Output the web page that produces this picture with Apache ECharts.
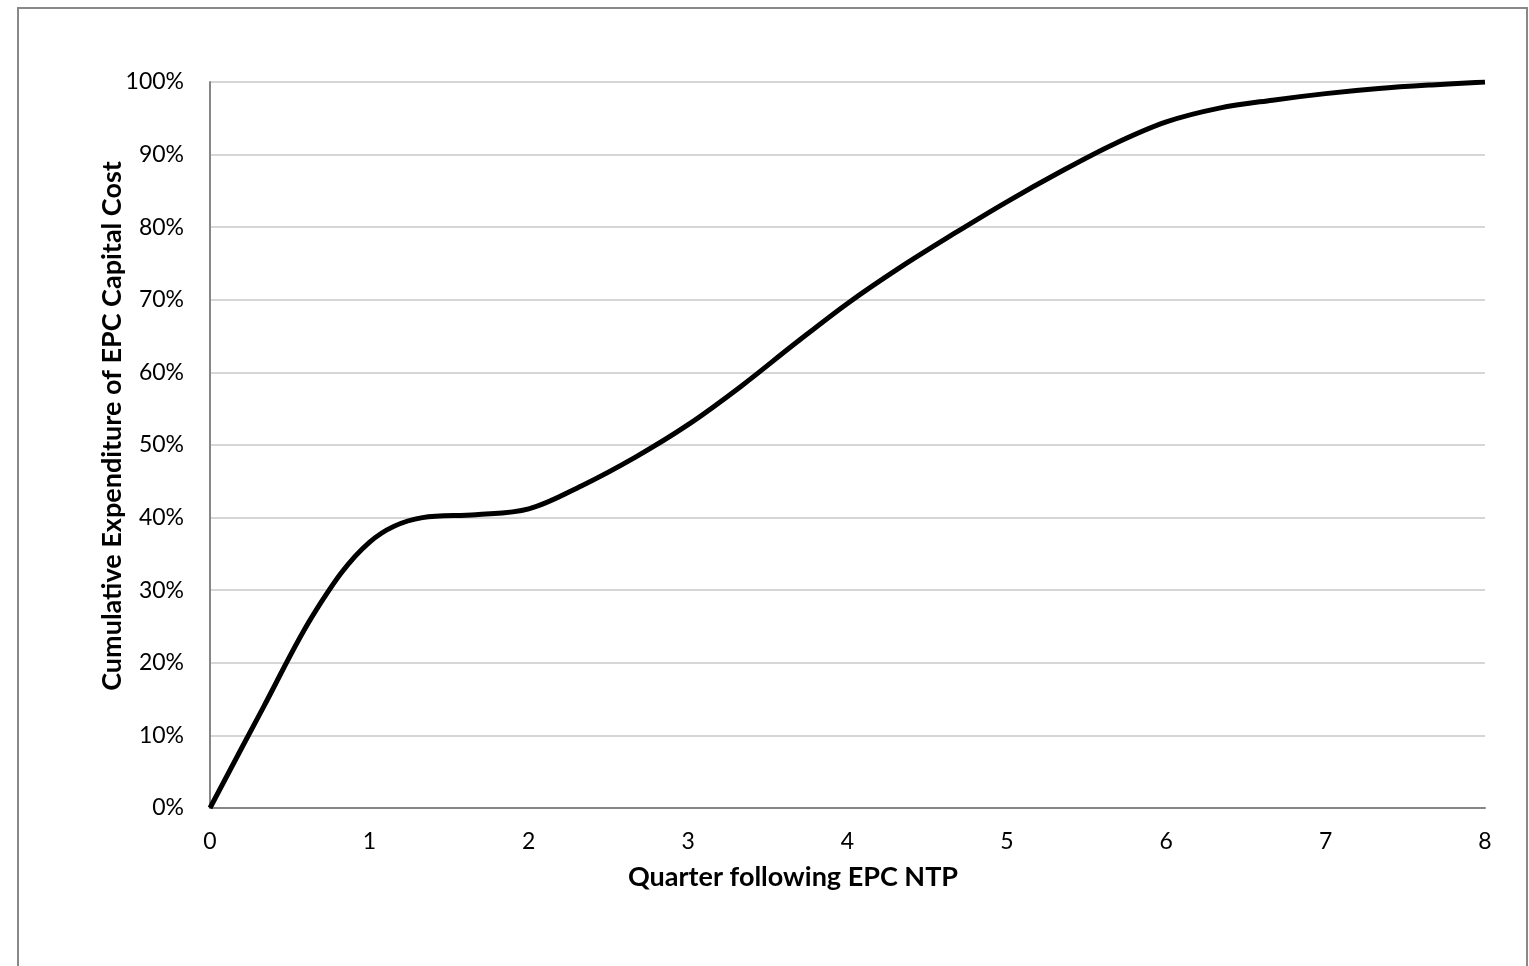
<!DOCTYPE html>
<html>
<head>
<meta charset="utf-8">
<script src="https://cdn.jsdelivr.net/npm/echarts@6/dist/echarts.min.js"></script>
<style>
html,body{margin:0;padding:0;background:#fff;}
#chart{width:1529px;height:966px;}
</style>
</head>
<body>
<div id="chart"></div>
<script>
// Quarter following EPC NTP (monthly steps) and cumulative expenditure (%)
var quarters = [0, 0.333, 0.667, 1, 1.333, 1.667, 2, 2.333, 2.667, 3, 3.333, 3.667, 4, 4.333, 4.667, 5, 5.333, 5.667, 6, 6.333, 6.667, 7, 7.333, 7.667, 8];
var cumulative = [0, 13.8, 27.3, 36.6, 40.0, 40.4, 41.2, 44.4, 48.3, 52.8, 58.1, 63.9, 69.5, 74.5, 79.1, 83.5, 87.6, 91.4, 94.5, 96.4, 97.5, 98.4, 99.1, 99.6, 100];
var xTitle = 'Quarter following EPC NTP';
var yTitle = 'Cumulative Expenditure of EPC Capital Cost';

var seriesData = quarters.map(function (q, i) { return [q, cumulative[i]]; });

var chart = echarts.init(document.getElementById('chart'));
var fontFam = 'Lato, "Open Sans", sans-serif';
chart.setOption({
  animation: false,
  backgroundColor: '#ffffff',
  grid: { left: 210, right: 44, top: 82, bottom: 158, containLabel: false },
  xAxis: {
    type: 'value', min: 0, max: 8, interval: 1,
    axisLine: { show: true, onZero: false, lineStyle: { color: '#868686', width: 2 } },
    axisTick: { show: false },
    splitLine: { show: false },
    axisLabel: { color: '#000', fontFamily: fontFam, fontSize: 23, margin: 22 }
  },
  yAxis: {
    type: 'value', min: 0, max: 100, interval: 10,
    axisLine: { show: true, lineStyle: { color: '#868686', width: 2 } },
    axisTick: { show: false },
    splitLine: { show: true, lineStyle: { color: '#c8c8c8', width: 1.5 } },
    axisLabel: { color: '#000', fontFamily: fontFam, fontSize: 23, margin: 26, formatter: function (v) { return v + '%'; } }
  },
  series: [{
    type: 'line',
    data: seriesData,
    smooth: 0.35,
    symbol: 'none',
    lineStyle: { color: '#000', width: 5 },
    z: 5
  }],
  graphic: [
    { type: 'rect', shape: { x: 18, y: 8, width: 1509, height: 1000 }, style: { fill: 'none', stroke: '#888888', lineWidth: 2 }, silent: true, z: 100 },
    { type: 'text', x: 793, y: 877, style: { text: xTitle, fill: '#000', font: 'bold 27px ' + fontFam, textAlign: 'center', textVerticalAlign: 'middle' } },
    { type: 'text', x: 112, y: 426, rotation: Math.PI / 2, style: { text: yTitle, fill: '#000', font: 'bold 27px ' + fontFam, textAlign: 'center', textVerticalAlign: 'middle' } }
  ]
});
</script>
</body>
</html>
